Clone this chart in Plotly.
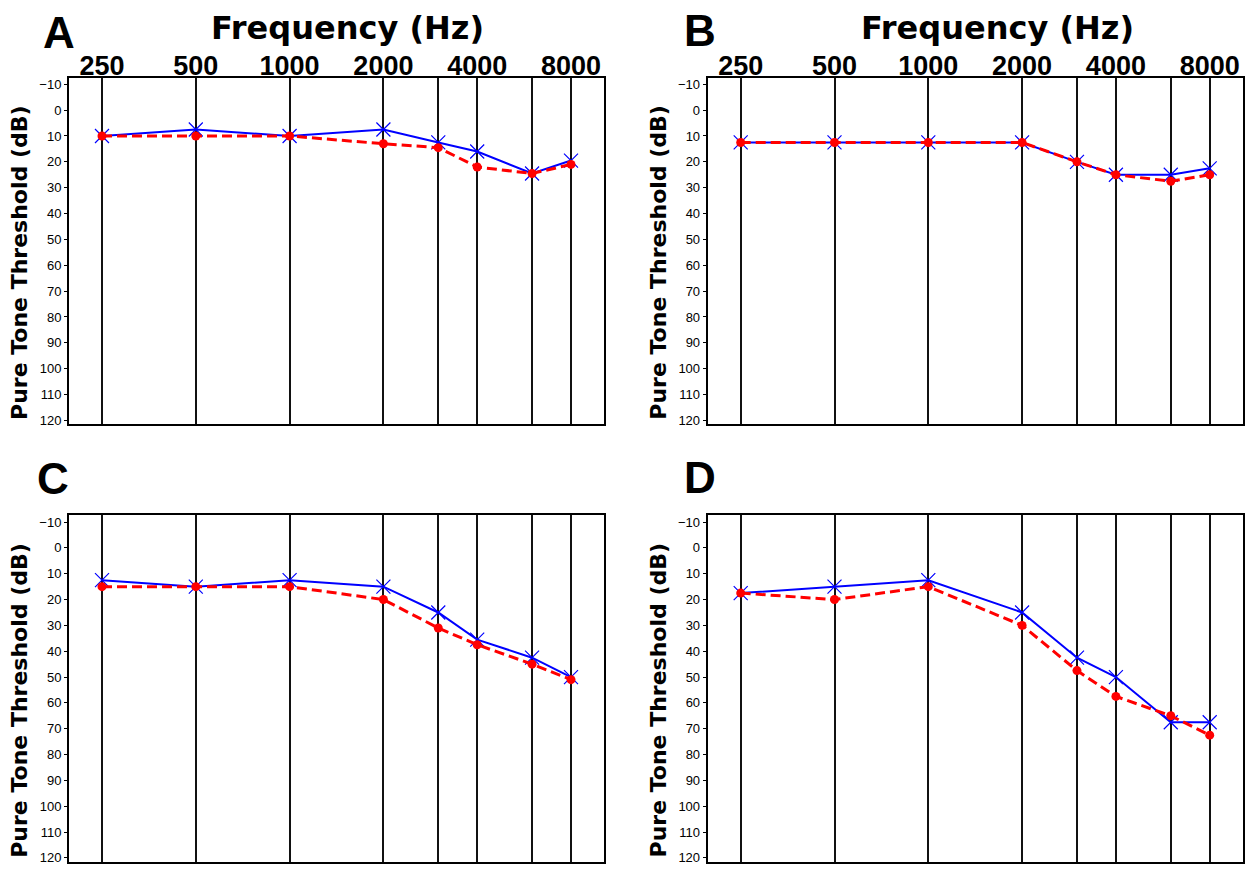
import math
import plotly.graph_objects as go

# Audiogram test frequencies (Hz) and the labels printed along the top
freqs = [250, 500, 1000, 2000, 3000, 4000, 6000, 8000]
freq_labels = ["250", "500", "1000", "2000", "", "4000", "", "8000"]

# Threshold ticks (dB)
db_ticks = list(range(-10, 121, 10))

# Pure tone thresholds (dB) per panel: blue = solid/x, red = dashed/dot
a_blue = [10, 7.5, 10, 7.5, 12.5, 16, 24.5, 19.5]
a_red = [10, 10, 10, 13, 14.5, 22, 24.5, 21]
b_blue = [12.5, 12.5, 12.5, 12.5, 20, 25, 25, 22.5]
b_red = [12.5, 12.5, 12.5, 12.5, 20, 25, 27.5, 25]
c_blue = [12.5, 15, 12.5, 15, 25, 35.5, 42.5, 50]
c_red = [15, 15, 15, 20, 31, 37.5, 45, 51]
d_blue = [17.5, 15, 12.5, 25, 42.5, 50, 67.5, 67.5]
d_red = [17.5, 20, 15, 30, 47.5, 57.5, 65, 72.5]

panel_names = ["A", "B", "C", "D"]
panel_data = [(a_blue, a_red), (b_blue, b_red), (c_blue, c_red), (d_blue, d_red)]

W, H = 1253, 875

# pixel boxes of the four plotting areas: (left, right, top, bottom)
boxes = [
    (69, 604, 77, 425.7),
    (707.7, 1242.7, 77, 425.7),
    (69, 604, 517.3, 865.7),
    (707.7, 1242.7, 517.3, 865.7),
]

x_range = [math.log10(250) - 0.1059, math.log10(8000) + 0.1059]
y_range = [121.5, -12.6]

fig = go.Figure()
layout = dict(
    width=W, height=H,
    margin=dict(l=0, r=0, t=0, b=0),
    paper_bgcolor="white", plot_bgcolor="white",
    showlegend=False,
    annotations=[],
)

for i, (name, (blue, red)) in enumerate(zip(panel_names, panel_data)):
    n = "" if i == 0 else str(i + 1)
    left, right, top, bottom = boxes[i]
    xa = dict(
        type="log", range=x_range,
        domain=[left / W, right / W],
        anchor="y" + n,
        side="top",
        tickmode="array", tickvals=freqs,
        ticktext=["<b>%s</b>" % t if t else "" for t in freq_labels],
        showticklabels=(i < 2),
        ticks="", ticklabelstandoff=-10,
        tickfont=dict(family="Liberation Sans, Arial", size=27, color="black"),
        showgrid=True, gridcolor="#111111", gridwidth=1.5,
        showline=True, linecolor="black", linewidth=2, mirror=True,
        zeroline=False,
    )
    ya = dict(
        range=y_range,
        domain=[1 - bottom / H, 1 - top / H],
        anchor="x" + n,
        tickmode="array", tickvals=db_ticks,
        ticks="outside", ticklen=3, tickwidth=1, tickcolor="black",
        tickfont=dict(family="Liberation Sans, Arial", size=13, color="black"),
        showgrid=False,
        showline=True, linecolor="black", linewidth=2, mirror=True,
        zeroline=False,
    )
    layout["xaxis" + n] = xa
    layout["yaxis" + n] = ya

    fig.add_trace(go.Scatter(
        x=freqs, y=blue, xaxis="x" + n, yaxis="y" + n,
        mode="lines+markers",
        line=dict(color="#0000ff", width=2),
        marker=dict(symbol="x-thin-open", size=14,
                    line=dict(color="#0000ff", width=1.2)),
    ))
    fig.add_trace(go.Scatter(
        x=freqs, y=red, xaxis="x" + n, yaxis="y" + n,
        mode="lines+markers",
        line=dict(color="#ff0000", width=3, dash="10px,5px"),
        marker=dict(symbol="circle", size=9, color="#ff0000"),
    ))

    # panel letter
    letter_x = [42, 683, 36, 683][i]
    letter_y = [32, 30, 480, 479][i]
    layout["annotations"].append(dict(
        text="<b>%s</b>" % name, xref="paper", yref="paper",
        x=letter_x / W, y=1 - letter_y / H, xanchor="left", yanchor="middle",
        showarrow=False, borderpad=0,
        font=dict(family="Liberation Sans, Arial", size=44, color="black"),
    ))

    # y-axis title
    layout["annotations"].append(dict(
        text="<b>Pure Tone Threshold (dB)</b>", xref="paper", yref="paper",
        x=(left - 49.5) / W, y=1 - (top + 186) / H,
        xanchor="center", yanchor="middle", textangle=-90,
        showarrow=False, borderpad=0,
        font=dict(family="DejaVu Sans", size=22, color="black"),
    ))

# frequency titles above the top panels
for cx in (347, 997.7):
    layout["annotations"].append(dict(
        text="<b>Frequency (Hz)</b>", xref="paper", yref="paper",
        x=cx / W, y=1 - 27 / H, xanchor="center", yanchor="middle",
        showarrow=False, borderpad=0,
        font=dict(family="DejaVu Sans", size=32, color="black"),
    ))

fig.update_layout(**layout)
fig.write_html("out.html")
